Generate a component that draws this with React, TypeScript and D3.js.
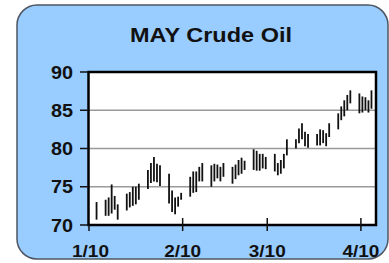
import React, { useRef, useEffect } from 'react';
import * as d3 from 'd3';

// trading days, Mon-Fri
const firstDay = new Date(2014, 0, 3);
const lastDay = new Date(2014, 3, 5);
const highs = [73.0,
  73.3, 73.6, 75.3, 73.8, 72.7,
  74.1, 74.3, 75.0, 75.0, 75.4,
  77.2, 78.1, 78.9, 78.0, 77.8,
  76.7, 74.5, 73.6, 73.7, 74.2,
  76.3, 77.0, 77.0, 77.6, 78.1,
  77.8, 78.0, 77.9, 77.6, 78.1,
  77.6, 77.9, 78.5, 78.8, 78.4,
  79.9, 79.7, 79.3, 79.3, 78.9,
  79.3, 78.1, 78.5, 79.3, 81.2,
  81.2, 82.6, 83.3, 82.2, 81.9,
  81.9, 82.5, 82.4, 82.0, 83.3,
  84.6, 85.5, 86.3, 87.0, 87.6,
  87.2, 86.8, 86.7, 86.3, 87.6];
const lows = [70.7,
  71.2, 71.2, 71.5, 72.0, 70.7,
  71.9, 72.3, 72.5, 72.7, 73.3,
  74.7, 75.5, 75.7, 75.6, 75.1,
  72.8, 71.7, 71.4, 72.4, 73.3,
  73.7, 74.2, 74.3, 75.7, 75.7,
  75.0, 75.7, 76.1, 75.7, 76.3,
  75.4, 76.0, 76.5, 76.7, 77.2,
  77.2, 77.1, 77.1, 77.4, 77.3,
  77.0, 76.5, 76.7, 77.4, 79.1,
  80.0, 80.7, 81.2, 80.3, 80.1,
  80.4, 80.4, 80.7, 80.3, 81.5,
  82.5, 83.7, 84.2, 85.0, 85.9,
  84.6, 84.7, 85.0, 84.7, 85.2];
const tickDates = [new Date(2014, 0, 1), new Date(2014, 1, 1), new Date(2014, 2, 1), new Date(2014, 3, 1)];
const tickLabels = ['1/10', '2/10', '3/10', '4/10'];
const yTicks = [70, 75, 80, 85, 90];
const gridValues = [75, 80, 85];

const font = '"Liberation Sans", Arial, sans-serif';

const App = () => {
  const svgRef = useRef<SVGSVGElement>(null);

  useEffect(() => {
    const svg = d3.select(svgRef.current);
    svg.selectAll('*').remove();

    const margin = { top: 72, right: 13, bottom: 38, left: 88.5 };
    const width = 389, height = 263;

    const days = d3.timeDay.range(firstDay, lastDay).filter(d => d.getDay() !== 0 && d.getDay() !== 6);
    const data = days.map((d, i) => ({ date: d, high: highs[i], low: lows[i] }));

    const x = d3.scaleTime()
      .domain([new Date(2014, 0, 1), new Date(2014, 3, 6)])
      .range([margin.left + 0.5, width - margin.right]);
    const y = d3.scaleLinear()
      .domain([70, 90])
      .range([height - margin.bottom, margin.top]);

    // background panel
    svg.append('rect')
      .attr('x', 17).attr('y', 5)
      .attr('width', 371).attr('height', 254)
      .attr('rx', 20).attr('ry', 20)
      .attr('fill', '#99ccff')
      .attr('stroke', '#4d5560')
      .attr('stroke-width', 1.5);

    svg.append('text')
      .attr('transform', 'translate(211,42) scale(1.12,1)')
      .attr('text-anchor', 'middle')
      .style('font-family', font)
      .style('font-weight', 'bold')
      .style('font-size', '21px')
      .attr('fill', '#111')
      .text('MAY Crude Oil');

    // plot area
    svg.append('rect')
      .attr('x', margin.left).attr('y', margin.top)
      .attr('width', width - margin.right - margin.left)
      .attr('height', height - margin.bottom - margin.top)
      .attr('fill', '#fff');

    svg.append('g').selectAll('line')
      .data(gridValues)
      .enter().append('line')
      .attr('x1', margin.left).attr('x2', width - margin.right)
      .attr('y1', d => y(d)).attr('y2', d => y(d))
      .attr('stroke', '#9a9a9a')
      .attr('stroke-width', 1.5);

    // high-low bars
    svg.append('g').selectAll('line')
      .data(data)
      .enter().append('line')
      .attr('x1', d => x(d3.timeHour.offset(d.date, 12)))
      .attr('x2', d => x(d3.timeHour.offset(d.date, 12)))
      .attr('y1', d => y(d.high))
      .attr('y2', d => y(d.low))
      .attr('stroke', '#111')
      .attr('stroke-width', 1.8);

    svg.append('rect')
      .attr('x', margin.left).attr('y', margin.top)
      .attr('width', width - margin.right - margin.left)
      .attr('height', height - margin.bottom - margin.top)
      .attr('fill', 'none')
      .attr('stroke', '#000')
      .attr('stroke-width', 2.5);

    // y axis
    const yAxis = svg.append('g');
    yAxis.selectAll('line')
      .data(yTicks)
      .enter().append('line')
      .attr('x1', 80).attr('x2', margin.left)
      .attr('y1', d => y(d)).attr('y2', d => y(d))
      .attr('stroke', '#111')
      .attr('stroke-width', 1.5);
    yAxis.selectAll('text')
      .data(yTicks)
      .enter().append('text')
      .attr('transform', d => `translate(73,${y(d) + 6.5}) scale(1.1,1)`)
      .attr('text-anchor', 'end')
      .style('font-family', font)
      .style('font-weight', 'bold')
      .style('font-size', '18px')
      .attr('fill', '#111')
      .text(d => d);

    // x axis
    const xAxis = svg.append('g');
    xAxis.selectAll('line')
      .data(tickDates)
      .enter().append('line')
      .attr('x1', d => x(d)).attr('x2', d => x(d))
      .attr('y1', (d, i) => i === 0 ? y(70) : y(70) - 7)
      .attr('y2', y(70) + 6)
      .attr('stroke', '#111')
      .attr('stroke-width', 1.5);
    xAxis.selectAll('text')
      .data(tickDates)
      .enter().append('text')
      .attr('transform', (d, i) => `translate(${x(d) + (i === 0 ? 1.5 : 0)},256.5) scale(1.12,1)`)
      .attr('text-anchor', 'middle')
      .style('font-family', font)
      .style('font-weight', 'bold')
      .style('font-size', '17px')
      .attr('fill', '#111')
      .text((d, i) => tickLabels[i]);
  }, []);

  return (
    <svg ref={svgRef} width={389} height={263}
      style={{ position: 'absolute', left: 0, top: 0, display: 'block' }} />
  );
};

export default App;
